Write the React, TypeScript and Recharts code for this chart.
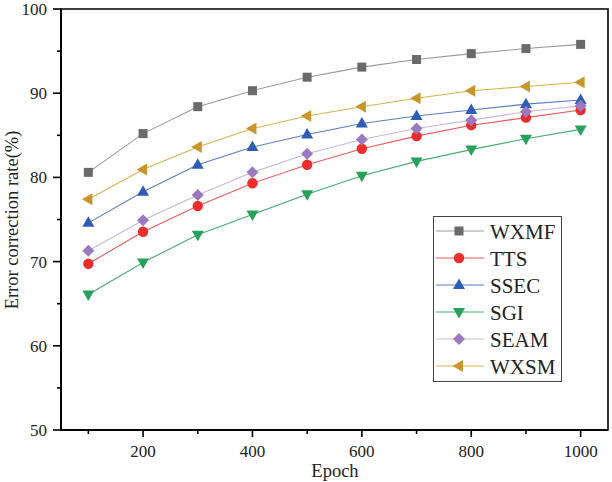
import React from 'react';
import { LineChart, Line, XAxis, YAxis, ReferenceArea, Legend } from 'recharts';

const EPOCHS = [100, 200, 300, 400, 500, 600, 700, 800, 900, 1000];
const WXMF = [80.6, 85.2, 88.4, 90.3, 91.9, 93.1, 94.0, 94.7, 95.3, 95.8];
const TTS = [69.75, 73.55, 76.6, 79.3, 81.5, 83.4, 84.9, 86.2, 87.1, 88.0];
const SSEC = [74.6, 78.3, 81.5, 83.6, 85.1, 86.4, 87.3, 88.0, 88.7, 89.2];
const SGI = [66.1, 69.9, 73.2, 75.6, 78.0, 80.2, 81.9, 83.3, 84.6, 85.7];
const SEAM = [71.3, 74.9, 77.9, 80.6, 82.8, 84.5, 85.8, 86.8, 87.8, 88.5];
const WXSM = [77.4, 80.95, 83.6, 85.8, 87.3, 88.4, 89.4, 90.3, 90.8, 91.3];

const X_TICKS = [100, 200, 300, 400, 500, 600, 700, 800, 900, 1000];
const Y_TICKS = [50, 55, 60, 65, 70, 75, 80, 85, 90, 95, 100];

const SERIES_NAMES = ['WXMF', 'TTS', 'SSEC', 'SGI', 'SEAM', 'WXSM'];
const SERIES_VALUES = [WXMF, TTS, SSEC, SGI, SEAM, WXSM];
const SERIES_SHAPES = ['square', 'circle', 'up', 'down', 'diamond', 'left'];
const LINE_COLORS = ['#9a9a9a', '#f05a5a', '#5b7bc6', '#46ad72', '#cbb6de', '#dcb04e'];
const MARKER_COLORS = ['#6a6a6a', '#ee2d2d', '#2f5db6', '#27a15c', '#9b79c1', '#c9962b'];

const X_TITLE = 'Epoch';
const Y_TITLE = 'Error correction rate(%)';

const data = EPOCHS.map((e, i) => {
  const row: Record<string, number> = { epoch: e };
  SERIES_NAMES.forEach((n, j) => {
    row[n] = SERIES_VALUES[j][i];
  });
  return row;
});

const FONT = '"Liberation Serif", "DejaVu Serif", serif';

function Marker({ cx, cy, shape, color }: { cx: number; cy: number; shape: string; color: string }) {
  if (cx == null || cy == null) return null;
  switch (shape) {
    case 'square':
      return <rect x={cx - 4.5} y={cy - 4.5} width={9} height={9} fill={color} />;
    case 'circle':
      return <circle cx={cx} cy={cy} r={5.2} fill={color} />;
    case 'up':
      return <polygon points={`${cx},${cy - 6.5} ${cx - 6},${cy + 4} ${cx + 6},${cy + 4}`} fill={color} />;
    case 'down':
      return <polygon points={`${cx},${cy + 6.5} ${cx - 6},${cy - 4} ${cx + 6},${cy - 4}`} fill={color} />;
    case 'diamond':
      return <polygon points={`${cx},${cy - 6} ${cx + 6},${cy} ${cx},${cy + 6} ${cx - 6},${cy}`} fill={color} />;
    case 'left':
      return <polygon points={`${cx - 6.5},${cy} ${cx + 4},${cy - 6} ${cx + 4},${cy + 6}`} fill={color} />;
    default:
      return null;
  }
}

const XTick = (props: any) => {
  const { x, y, payload } = props;
  const major = payload.value % 200 === 0;
  return (
    <g>
      <line x1={x} x2={x} y1={y} y2={y + (major ? 7 : 4)} stroke="#000" strokeWidth={1.6} />
      {major && (
        <text x={x} y={y + 27} textAnchor="middle" fontFamily={FONT} fontSize={17} fill="#222">
          {payload.value}
        </text>
      )}
    </g>
  );
};

const YTick = (props: any) => {
  const { x, y, payload } = props;
  const major = payload.value % 10 === 0;
  return (
    <g>
      <line x1={x - (major ? 8 : 4)} x2={x} y1={y} y2={y} stroke="#000" strokeWidth={1.6} />
      {major && (
        <text x={x - 14} y={y + 6} textAnchor="end" fontFamily={FONT} fontSize={17} fill="#222">
          {payload.value}
        </text>
      )}
    </g>
  );
};

const XTitle = (_props: any) => (
  <text x={335} y={477} textAnchor="middle" fontFamily={FONT} fontSize={18.5} fill="#222">
    {X_TITLE}
  </text>
);

const YTitle = (_props: any) => (
  <text
    x={12}
    y={220}
    transform="rotate(-90 12 220)"
    textAnchor="middle"
    dominantBaseline="central"
    fontFamily={FONT}
    fontSize={18.5}
    fill="#222"
  >
    {Y_TITLE}
  </text>
);

const LegendBox = () => (
  <svg width={130} height={167} style={{ display: 'block' }}>
    <rect x={0.5} y={0.5} width={128} height={165} fill="#fff" stroke="#444" strokeWidth={1} />
    {SERIES_NAMES.map((n, i) => {
      const cy = 15 + i * 27;
      return (
        <g key={n}>
          <line x1={3} x2={51} y1={cy} y2={cy} stroke={LINE_COLORS[i]} strokeWidth={1.2} />
          <Marker cx={26} cy={cy} shape={SERIES_SHAPES[i]} color={MARKER_COLORS[i]} />
          <text x={57} y={cy + 7.5} fontFamily={FONT} fontSize={21} fill="#222">
            {n}
          </text>
        </g>
      );
    })}
  </svg>
);

export default function App() {
  return (
    <div style={{ position: 'absolute', left: 0, top: 0, width: 612, height: 482, background: '#fff' }}>
      <LineChart width={612} height={482} data={data} margin={{ top: 9, right: 4, left: 0, bottom: 0 }}>
        <ReferenceArea
          x1={50}
          x2={1050}
          y1={50}
          y2={100}
          fill="none"
          stroke="#000"
          strokeWidth={1.6}
          ifOverflow="visible"
        />
        <XAxis
          type="number"
          dataKey="epoch"
          domain={[50, 1050]}
          ticks={X_TICKS}
          interval={0}
          allowDataOverflow
          height={52}
          tickSize={0}
          tickMargin={0}
          tickLine={false}
          axisLine={{ stroke: '#000', strokeWidth: 2 }}
          tick={<XTick />}
          label={<XTitle />}
        />
        <YAxis
          type="number"
          domain={[50, 100]}
          ticks={Y_TICKS}
          interval={0}
          allowDataOverflow
          width={61}
          tickSize={0}
          tickMargin={0}
          tickLine={false}
          axisLine={{ stroke: '#000', strokeWidth: 2 }}
          tick={<YTick />}
          label={<YTitle />}
        />
        <Legend
          layout="vertical"
          align="center"
          verticalAlign="middle"
          wrapperStyle={{ position: 'absolute', left: 433, top: 216, width: 130, height: 167 }}
          content={() => <LegendBox />}
        />
        {SERIES_NAMES.map((n, i) => (
          <Line
            key={n}
            type="linear"
            dataKey={n}
            name={n}
            stroke={LINE_COLORS[i]}
            strokeWidth={1.1}
            isAnimationActive={false}
            dot={(p: any) => (
              <Marker key={`${n}-${p.index}`} cx={p.cx} cy={p.cy} shape={SERIES_SHAPES[i]} color={MARKER_COLORS[i]} />
            )}
            activeDot={false}
          />
        ))}
      </LineChart>
    </div>
  );
}
